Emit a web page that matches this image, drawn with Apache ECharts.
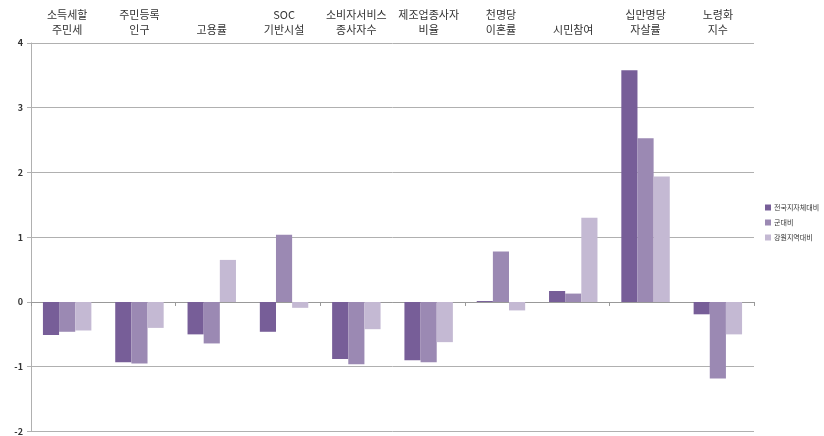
<!DOCTYPE html>
<html><head><meta charset="utf-8">
<script src="https://cdn.jsdelivr.net/npm/echarts@6/dist/echarts.min.js"></script>
<style>html,body{margin:0;padding:0;background:#fff}#c{width:824px;height:436px}</style>
</head><body><div id="c"></div>
<script>
const categories = ['소득세할\n주민세','주민등록\n인구','고용률','SOC\n기반시설','소비자서비스\n종사자수','제조업종사자\n비율','천명당\n이혼률','시민참여','십만명당\n자살률','노령화\n지수'];
const seriesNames = ['전국지자체대비','군대비','강원지역대비'];
const vsNational = [-0.51,-0.93,-0.50,-0.46,-0.88,-0.90,0.015,0.17,3.58,-0.19];
const vsGun = [-0.46,-0.95,-0.64,1.04,-0.96,-0.93,0.78,0.13,2.53,-1.18];
const vsGangwon = [-0.44,-0.40,0.65,-0.09,-0.42,-0.62,-0.13,1.30,1.94,-0.50];
const yTicks = {min:-2,max:4,interval:1};
const colors = ['#775E98','#9B89B3','#C4B9D3'];

const chart = echarts.init(document.getElementById('c'));
const font = '"Noto Sans CJK KR", "DejaVu Sans", sans-serif';
chart.setOption({
  animation:false,
  textStyle:{fontFamily:font},
  grid:{left:31,right:70,top:43,bottom:3},
  legend:{orient:'vertical',left:760,top:199,itemWidth:6,itemHeight:6,itemGap:8,icon:'rect',
    textStyle:{fontSize:7,color:'#333',fontFamily:font,padding:[0,0,0,-2]},data:seriesNames},
  xAxis:[{type:'category',data:categories,position:'bottom',
    axisLine:{onZero:true,lineStyle:{color:'#999',width:1}},
    axisTick:{show:true,length:4,lineStyle:{color:'#999'}},
    axisLabel:{show:false}},
   {type:'category',data:categories,position:'top',
    axisLine:{show:false},axisTick:{show:false},
    axisLabel:{interval:0,fontSize:11,color:'#333',lineHeight:15,margin:6,fontFamily:font}}],
  yAxis:{type:'value',min:yTicks.min,max:yTicks.max,interval:yTicks.interval,
    axisLine:{show:true,lineStyle:{color:'#b0b0b0'}},
    axisTick:{show:true,length:4,lineStyle:{color:'#b0b0b0'}},
    axisLabel:{fontSize:9,color:'#333',fontWeight:'bold',margin:8},
    splitLine:{lineStyle:{color:'#b0b0b0',width:1}}},
  series:[
    {name:seriesNames[0],type:'bar',data:vsNational,itemStyle:{color:colors[0]},barGap:'0%',barCategoryGap:'33%'},
    {name:seriesNames[1],type:'bar',data:vsGun,itemStyle:{color:colors[1]},barGap:'0%',barCategoryGap:'33%'},
    {name:seriesNames[2],type:'bar',data:vsGangwon,itemStyle:{color:colors[2]},barGap:'0%',barCategoryGap:'33%'}
  ]
});
</script></body></html>
